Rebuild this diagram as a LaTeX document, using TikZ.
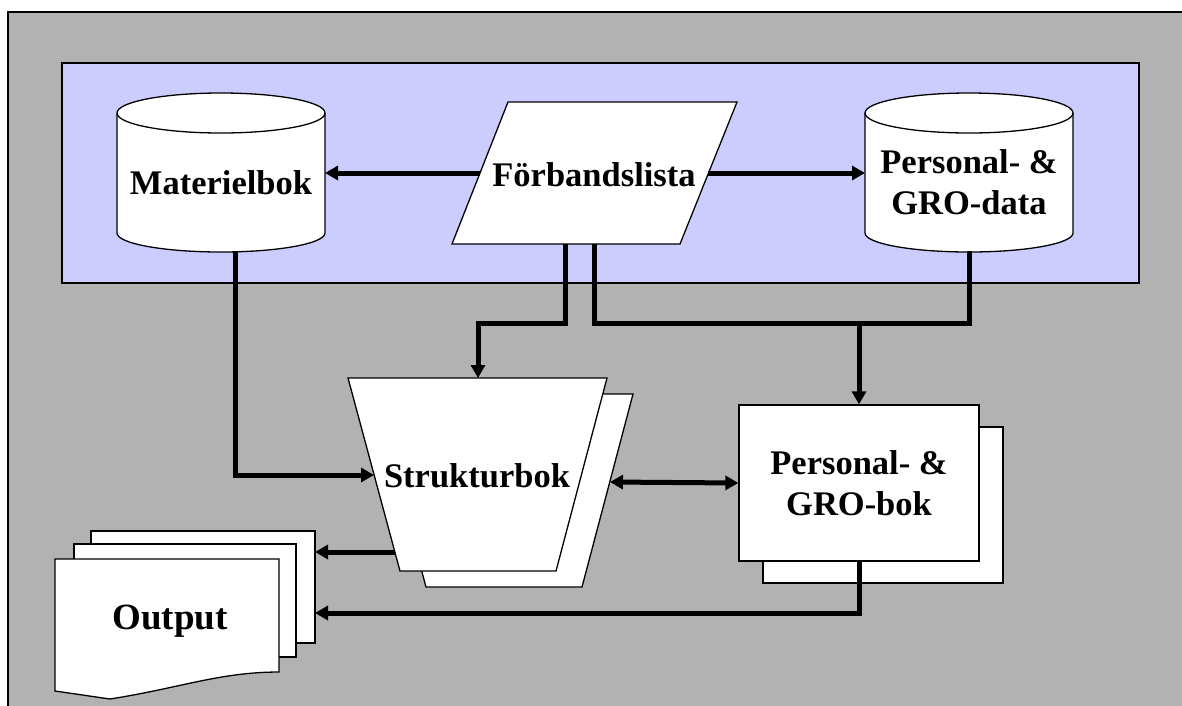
\documentclass[tikz,border=0pt]{standalone}
\usepackage{fontspec}
\setmainfont{Liberation Serif}
\usetikzlibrary{arrows.meta}
\definecolor{bggray}{RGB}{178,178,178}
\definecolor{dbblue}{RGB}{204,204,255}
\begin{document}
\begin{tikzpicture}[x=1pt, y=-1pt,
  outline/.style={draw=black, line width=1.3pt, fill=white},
  lbl/.style={font=\bfseries\fontsize{34.5}{41.4}\selectfont, align=center, inner sep=0pt},
  page/.style={outline, rectangle, minimum width=240pt, minimum height=156pt},
  link/.style={line width=5pt},
  flow/.style={link, -{Triangle[length=13pt,width=14pt]}},
  flow2/.style={link, {Triangle[length=13pt,width=14pt]}-{Triangle[length=13pt,width=14pt]}}]
\useasboundingbox (0,0) rectangle (1182,705);
\draw[fill=bggray, line width=1.3pt] (8,12) rectangle (1200,720);
\draw[fill=dbblue, line width=1.3pt] (62,63) rectangle (1139,283);

% databaser
\draw[outline] (117,113) -- (117,233) arc[start angle=180,end angle=360,x radius=104pt,y radius=19pt]
  -- (325,113) arc[start angle=0,end angle=180,x radius=104pt,y radius=20pt] -- cycle;
\draw[line width=1.3pt] (117,113) arc[start angle=180,end angle=360,x radius=104pt,y radius=20pt];
\node[lbl] (mat) at (221,183) {Materielbok};
\draw[outline] (865,113) -- (865,233) arc[start angle=180,end angle=360,x radius=104pt,y radius=19pt]
  -- (1073,113) arc[start angle=0,end angle=180,x radius=104pt,y radius=20pt] -- cycle;
\draw[line width=1.3pt] (865,113) arc[start angle=180,end angle=360,x radius=104pt,y radius=20pt];
\node[lbl] (pdata) at (969,182) {Personal- \&\\GRO-data};

% indata
\draw[outline] (508,102) -- (737,102) -- (680,244) -- (452,244) -- cycle;
\node[lbl] (forb) at (594,175) {Förbandslista};

% strukturbok
\draw[outline] (374,394) -- (633,394) -- (582,587) -- (426,587) -- cycle;
\draw[outline] (348,378) -- (607,378) -- (556,571) -- (400,571) -- cycle;
\node[lbl] (struk) at (477,476) {Strukturbok};

% personal- & GRO-bok
\node[page] (pgbokS) at (883,505) {};
\node[page, lbl] (pgbok) at (859,483) {Personal- \&\\GRO-bok};

% output
\draw[outline] (91,531) rectangle (315,643);
\draw[outline] (74,544) rectangle (296,657);
\draw[outline] (55,559) -- (279,559) -- (279,672) .. controls (220,672) and (180,688) .. (110,699)
  -- (55,691) -- cycle;
\node[lbl, font=\bfseries\fontsize{37}{44}\selectfont] (outp) at (170,621) {Output};

\coordinate (matB) at (235,251);
\coordinate (strL) at (374,475);
\coordinate (forbB1) at (565,244);
\coordinate (forbB2) at (594,244);
\coordinate (forbL) at (480,173);
\coordinate (forbR) at (708,173);
\coordinate (matR) at (325,173);
\coordinate (pdataL) at (865,173);
\coordinate (pdataB) at (969,251);
\coordinate (jnA) at (478,323);
\coordinate (jnB) at (969,323);
\coordinate (jnC) at (859,323);
\coordinate (strT) at (478,378);
\coordinate (strR) at (610,482);
\coordinate (strLo) at (395,552);
\coordinate (outR1) at (315,552);
\coordinate (outR2) at (315,613);

\draw[flow] (forbL) -- (matR);
\draw[flow] (forbR) -- (pdataL);
\draw[flow] (matB) |- (strL);
\draw[flow] (forbB1) |- (jnA) -- (strT);
\draw[link] (forbB2) |- (jnB) -- (pdataB);
\draw[flow] (jnC) -- (pgbok.north);
\draw[flow2] (strR) -- (pgbok.west);
\draw[flow] (strLo) -- (outR1);
\draw[flow] (pgbok.south) |- (outR2);

\end{tikzpicture}
\end{document}
